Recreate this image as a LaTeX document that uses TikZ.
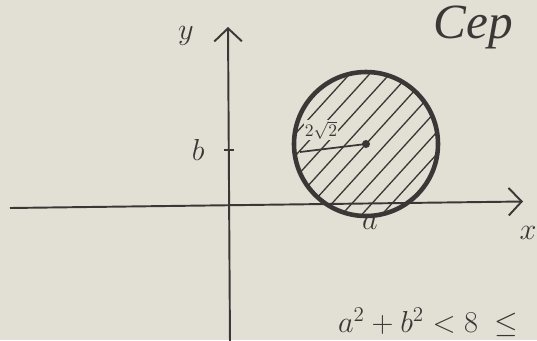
\documentclass[tikz,border=0pt]{standalone}
\usepackage{amsmath}
\usepackage{fontspec}
\newfontfamily\hand{Liberation Serif}
\usepackage{tikz}
\usetikzlibrary{arrows.meta,positioning}

\definecolor{paper}{RGB}{226,223,213}
\definecolor{ink}{RGB}{58,56,54}

\begin{document}
\begin{tikzpicture}[
  font=\LARGE,
  axis/.style={draw=ink, line width=1.1pt, -{Straight Barb[length=2.6mm, width=5.5mm]}},
  rim/.style={draw=ink, line width=2.6pt},
  hatch/.style={draw=ink, line width=0.75pt},
  lbl/.style={text=ink, inner sep=1pt}
]
  % page and its margins
  \useasboundingbox[fill=paper] (0,0) rectangle (10.74,6.8);
  \clip (0,0) rectangle (10.74,6.8);

  % axes
  \coordinate (ybot) at (4.6,-0.1);
  \coordinate (ytop) at (4.56,6.26);
  \coordinate (xleft) at (0.2,2.64);
  \coordinate (xright) at (10.46,2.77);
  \draw[axis] (ybot) -- (ytop);
  \draw[axis] (xleft) -- (xright);
  \node[lbl] (ylab) at (3.72,6.08) {$y$};
  \node[lbl] (xlab) at (10.56,2.14) {$x$};

  % tick for b
  \coordinate (btick) at (4.58,3.8);
  \draw[ink, line width=1pt] ([xshift=-0.1cm]btick) -- ([xshift=0.1cm]btick);
  \node[lbl, left=0.45cm of btick] (blab) {$b$};

  % disc
  \coordinate (ctr) at (7.32,3.92);
  \begin{scope}
    \clip (ctr) circle (1.44);
    \foreach \k in {-9,...,9}
      \draw[hatch] ([shift={(\k*0.4,0)}]ctr) ++(-2,-2.2) -- ++(4,4.4);
  \end{scope}
  \draw[rim] (ctr) circle (1.44);
  \fill[ink] (ctr) circle (0.08);
  \coordinate (redge) at (6.0,3.76);
  \draw[ink, line width=1pt] (redge) -- (ctr);
  \node[lbl, font=\normalsize, fill=paper, inner sep=0.5pt] (rlab) at (6.42,4.2) {$2\sqrt{2}$};
  \node[lbl] (alab) at (7.4,2.34) {$a$};

  % writing near the page edges
  \node[lbl, anchor=south west, font=\LARGE] (ineq) at (6.72,0.02) {$a^2+b^2<8\;\leq$};
  \node[lbl, anchor=north west, font=\fontsize{28}{28}\hand\itshape] (word) at (8.62,6.72) {Сер};
\end{tikzpicture}
\end{document}
